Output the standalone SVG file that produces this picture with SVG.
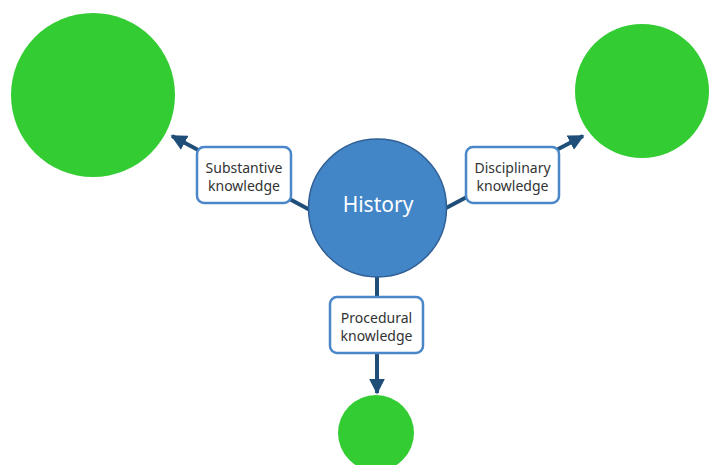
<svg xmlns="http://www.w3.org/2000/svg" width="711" height="465" viewBox="0 0 711 465">
<style>
.green{fill:#33cc33;}
.box{fill:#ffffff;stroke:#4a86c8;stroke-width:2.5;}
.lbl{font-family:"Noto Sans","Liberation Sans",sans-serif;font-size:14px;fill:#333333;text-anchor:middle;}
.conn{stroke:#1f4e79;stroke-width:4;fill:none;}
</style>
<defs>
<marker id="ah" viewBox="0 0 10 10" refX="9" refY="5" markerWidth="4" markerHeight="4" orient="auto" markerUnits="strokeWidth">
<path d="M0,0 L10,5 L0,10 z" fill="#1f4e79"/>
</marker>
</defs>
<rect width="711" height="465" fill="#ffffff"/>
<g id="connectors">
<line class="conn" x1="310" y1="210" x2="172" y2="136" marker-end="url(#ah)"/>
<line class="conn" x1="446" y1="208" x2="583" y2="136" marker-end="url(#ah)"/>
<line class="conn" x1="377" y1="277" x2="377" y2="393" marker-end="url(#ah)"/>
</g>
<g id="green-left"><circle class="green" cx="93" cy="95" r="82"/></g>
<g id="green-right"><circle class="green" cx="642" cy="91" r="67"/></g>
<g id="green-bottom"><circle class="green" cx="376" cy="433" r="38"/></g>
<g id="history">
<circle cx="377.5" cy="208" r="69" fill="#4286c8" stroke="#2f5f95" stroke-width="1.5"/>
<text x="378" y="212" font-family="Noto Sans,Liberation Sans,sans-serif" font-size="21" fill="#ffffff" text-anchor="middle">History</text>
</g>
<g id="substantive">
<rect class="box" x="197" y="147" width="94" height="56" rx="7"/>
<text class="lbl" x="244" y="173">Substantive</text>
<text class="lbl" x="244" y="191">knowledge</text>
</g>
<g id="disciplinary">
<rect class="box" x="466" y="147" width="93" height="56" rx="7"/>
<text class="lbl" x="512.5" y="173">Disciplinary</text>
<text class="lbl" x="512.5" y="191">knowledge</text>
</g>
<g id="procedural">
<rect class="box" x="330" y="297" width="93" height="56" rx="7"/>
<text class="lbl" x="376.5" y="323">Procedural</text>
<text class="lbl" x="376.5" y="341">knowledge</text>
</g>
</svg>
